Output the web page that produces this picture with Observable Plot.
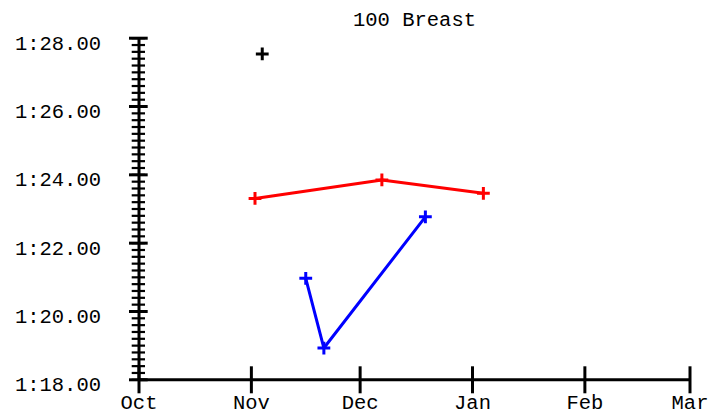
<!DOCTYPE html>
<html>
<head>
<meta charset="utf-8">
<script src="https://cdn.jsdelivr.net/npm/d3@7"></script>
<script src="https://cdn.jsdelivr.net/npm/@observablehq/plot@0.6"></script>
<style>
  html, body { margin: 0; padding: 0; background: #fff; }
  #chart svg { display: block; }
</style>
</head>
<body>
<div id="chart"></div>
<script>
// ---- data ----
const title = "100 Breast";
const redDates = ["2023-11-02", "2023-12-07", "2024-01-04"];
const redTimes = [83.31, 83.85, 83.46];
const blueDates = ["2023-11-16", "2023-11-21", "2023-12-19"];
const blueTimes = [80.97, 78.93, 82.77];
const blackDates = ["2023-11-04"];
const blackTimes = [87.54];
const monthTicks = ["2023-10-01", "2023-11-01", "2023-12-01", "2024-01-01", "2024-02-01", "2024-03-01"];
const yMajorTicks = [78, 80, 82, 84, 86, 88];
const yMinorTicks = d3.range(0, 51).map(i => 78 + i * 0.2);

const toRows = (dates, times, series) => dates.map((d, i) => ({date: new Date(d), t: times[i], series}));
const rows = [
  ...toRows(redDates, redTimes, "red"),
  ...toRows(blueDates, blueTimes, "blue"),
  ...toRows(blackDates, blackTimes, "black")
];
const months = monthTicks.map(d => new Date(d));
const fmtTime = t => { const s = t - 60; return "1:" + (s < 10 ? "0" : "") + s.toFixed(2); };

const W = 711, H = 414;
const mL = 138.5, mR = 21.5, mT = 37.7, mB = 34.7;
const pw = W - mL - mR, ph = H - mT - mB;
const font = "'Liberation Mono', 'Courier New', monospace";

const chart = Plot.plot({
  width: W,
  height: H,
  marginLeft: mL,
  marginRight: mR,
  marginTop: mT,
  marginBottom: mB,
  style: {fontFamily: font, fontSize: "20.5px", color: "#000", background: "#fff"},
  x: {type: "utc", domain: [months[0], months[months.length - 1]]},
  y: {domain: [78, 88]},
  color: {type: "identity"},
  marks: [
    // y axis labels
    Plot.axisY({ticks: yMajorTicks, tickSize: 0, tickPadding: 38, tickFormat: fmtTime, dy: 5, label: null, fontSize: 20.5}),
    // x axis labels
    Plot.axisX({ticks: months, tickSize: 0, tickPadding: 15, tickFormat: d3.utcFormat("%b"), label: null, fontSize: 20.5}),
    // minor y ticks
    Plot.ruleY(yMinorTicks, {y: d => d, stroke: "#000", strokeWidth: 2.2, insetLeft: -6.8, insetRight: pw - 6.5}),
    // major y ticks
    Plot.ruleY(yMajorTicks, {y: d => d, stroke: "#000", strokeWidth: 3, insetLeft: -9.5, insetRight: pw - 9.2}),
    // x ticks
    Plot.ruleX(months, {x: d => d, stroke: "#000", strokeWidth: 3, insetTop: ph - 13, insetBottom: -14}),
    // axis lines
    Plot.ruleX([months[0]], {x: d => d, stroke: "#000", strokeWidth: 3}),
    Plot.ruleY([78], {y: d => d, stroke: "#000", strokeWidth: 3}),
    // data
    Plot.line(rows, {x: "date", y: "t", z: "series", stroke: "series", strokeWidth: 3}),
    Plot.dot(rows, {x: "date", y: "t", stroke: "series", symbol: "plus", r: 4.2, strokeWidth: 3}),
    // title
    Plot.text([title], {text: d => d, frameAnchor: "top", dy: -19, fontSize: 20.5, lineAnchor: "middle", fill: "#000"})
  ]
});
document.getElementById("chart").appendChild(chart);
</script>
</body>
</html>
